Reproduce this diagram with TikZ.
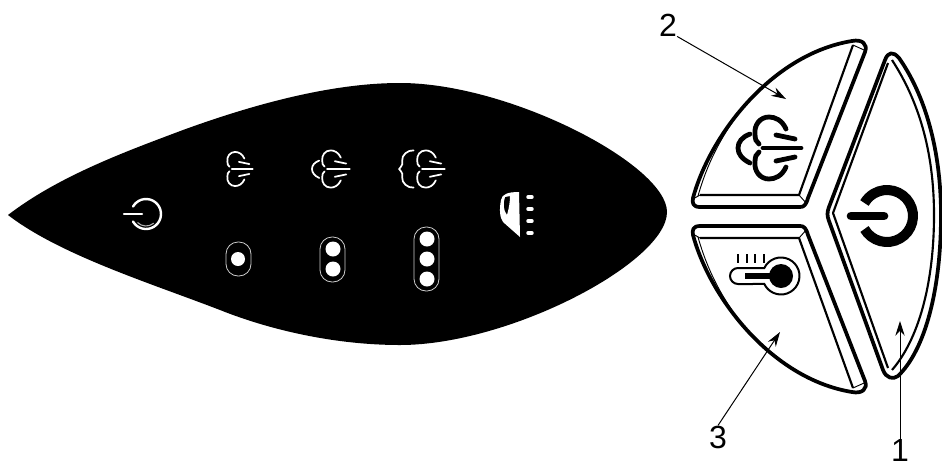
\documentclass[tikz,border=0pt]{standalone}
\usepackage{fontspec}
\setmainfont{Liberation Sans}
\usetikzlibrary{arrows.meta}
\begin{document}
\begin{tikzpicture}[x=0.75pt,y=-0.75pt,>={Stealth[length=11pt,width=7pt]}]
    \tikzset{
        numlabel/.style={inner sep=0pt, font=\fontsize{24}{24}\selectfont},
        leader/.style={->, line width=0.75pt},
        capsule/.style={draw=white!80!black, line width=0.6pt, rounded corners=9pt},
        lamp/.style={fill=white, draw=none},
        edge/.style={line width=2.8pt, line join=round},
        inner/.style={line width=1.6pt, line join=round},
        paneltrace/.style={white, line width=1.3pt, line cap=round},
        keytrace/.style={black, line width=3.6pt, line cap=round},
        steamcloud/.pic={
            \draw (28,-19) .. controls (24,-28) and (17,-31) .. (11,-31) .. controls (2,-31) and (-4,-23) .. (-3,-14) .. controls (-3,-9) and (-2,-6) .. (1,-4);
            \draw (28,19) .. controls (24,28) and (17,31) .. (11,31) .. controls (2,31) and (-4,23) .. (-3,14) .. controls (-3,9) and (-2,6) .. (1,4);
        },
        steamback/.pic={
            \draw (16,-31) .. controls (6,-32) and (-4,-23) .. (-3,-14) .. controls (-3,-9) and (-2,-6) .. (-5,-4);
            \draw (16,31) .. controls (6,32) and (-4,23) .. (-3,14) .. controls (-3,9) and (-2,6) .. (-5,4);
            \draw (-5,-4) .. controls (-9,-2) and (-9,2) .. (-5,4);
        },
        steambars/.pic={
            \draw (5,0) -- (43,0);
            \draw (18,-13) -- (37,-9);
            \draw (18,13) -- (37,9);
        },
        steamarc/.pic={
            \draw (-8,-14) .. controls (-16,-11) and (-20,-6) .. (-20,0) .. controls (-20,6) and (-16,11) .. (-8,15);
        },
        wedge/.pic={
            \draw[edge, fill=white] (693,198) .. controls (710,135) and (772,54) .. (852,41)
                .. controls (862,39) and (868,44) .. (865,52) -- (808,198)
                .. controls (806,205) and (804,207) .. (800,207) -- (700,207)
                .. controls (693,207) and (692,203) .. (693,198) -- cycle;
            \draw[inner] (700,195) -- (799,195) -- (853,45);
            \draw[line width=0.7pt] (698,196) .. controls (708,160) and (725,130) .. (745,105);
            \draw[line width=0.7pt] (799,195) -- (807,204);
            \draw[line width=0.7pt] (693,199) -- (700,195);
            \draw[line width=0.7pt] (853,45) -- (864,50);
        }
    }

    \useasboundingbox (0,0) rectangle (942,465);

    \fill[black] (8,215) .. controls (60,175) and (130,150) .. (183,130)
        .. controls (260,102) and (335,83) .. (400,83)
        .. controls (510,83) and (667,165) .. (667,212)
        .. controls (667,262) and (510,345) .. (400,345)
        .. controls (335,345) and (270,330) .. (220,310)
        .. controls (150,283) and (60,255) .. (8,215) -- cycle;

    \draw[white, line width=1.8pt, line cap=round] (146,214) ++(150:15) arc[start angle=150, end angle=-150, radius=15];
    \draw[white, line width=1.8pt, line cap=round] (124,214) -- (142,214);
    \draw[white!70!black, line width=0.8pt] (146,214) ++(135:12) arc[start angle=135, end angle=50, radius=12];

    \pic[paneltrace, scale=.55] at (229,169) {steamcloud};
    \pic[paneltrace, scale=.55] at (229,169) {steambars};
    \pic[paneltrace, scale=.6] at (324,169) {steamcloud};
    \pic[paneltrace, scale=.6] at (324,169) {steambars};
    \pic[paneltrace, scale=.6] at (324,169) {steamarc};
    \pic[paneltrace, scale=.6] at (404,169) {steamback};
    \pic[paneltrace, scale=.6] at (419,169) {steamcloud};
    \pic[paneltrace, scale=.6] at (419,169) {steambars};

    \draw[capsule] (226,242) rectangle (251,276);
    \draw[capsule] (320,237) rectangle (345,282);
    \draw[capsule] (414,227) rectangle (439,291);
    \fill[lamp] (238,259) circle (7);
    \foreach \y in {249,269} \fill[lamp] (333,\y) circle (7.5);
    \foreach \y in {239,259,279} \fill[lamp] (427,\y) circle (7.5);

    \fill[white, even odd rule] (519,192) .. controls (508,192) and (502,194) .. (501,200)
        .. controls (499,210) and (500,218) .. (503,222) -- (520,237) -- cycle
        (505,197) .. controls (503,203) and (503,210) .. (507,215) .. controls (509,208) and (510,202) .. (510,196) -- cycle;
    \foreach \y in {197,209,221,233} \draw[white, line width=2.6pt, line cap=round] (528,\y) -- (532,\y);

    \pic at (0,0) {wedge};
    \pic[yscale=-1] at (0,433) {wedge};

    \draw[edge, fill=white] (885,60) -- (829,207) .. controls (827,212) and (827,216) .. (829,221)
        -- (883,370) .. controls (886,378) and (893,380) .. (898,376)
        .. controls (925,350) and (941,290) .. (941,215)
        .. controls (941,150) and (925,95) .. (899,58)
        .. controls (893,51) and (888,52) .. (885,60) -- cycle;
    \draw[inner] (888,63) -- (833,213) -- (888,368);
    \draw[inner] (892,370) .. controls (918,340) and (934,285) .. (934,215)
        .. controls (934,150) and (918,100) .. (892,60);

    \draw[line width=7.5pt] (887,216) ++(150:26) arc[start angle=150, end angle=-150, radius=26];
    \draw[line width=6.5pt, line cap=round] (851,216) -- (884,216);

    \pic[keytrace] at (758,148) {steamcloud};
    \pic[keytrace] at (758,148) {steambars};
    \pic[keytrace] at (758,148) {steamarc};

    \draw[line width=1.5pt] (738,268) -- (764.3,268) arc[start angle=205.6, end angle=514.4, radius=18.5] -- (738,284) arc[start angle=90, end angle=270, radius=8];
    \fill (781,276) circle (12);
    \draw[line width=4.5pt] (745,276) -- (775,276);
    \foreach \x in {738,747,755,764} \draw[line width=1.3pt] (\x,254) -- (\x,263);

    \node[numlabel] (lab2) at (668,25) {2};
    \node[numlabel] (lab3) at (718,437) {3};
    \node[numlabel] (lab1) at (900,450) {1};
    \coordinate (tip2) at (786,99);
    \coordinate (tip3) at (780,332);
    \coordinate (tip1) at (900,321);
    \draw[leader] (lab2.south east) -- (tip2);
    \draw[leader] (lab3.north) -- (tip3);
    \draw[leader] (lab1.north) -- (tip1);
\end{tikzpicture}
\end{document}
